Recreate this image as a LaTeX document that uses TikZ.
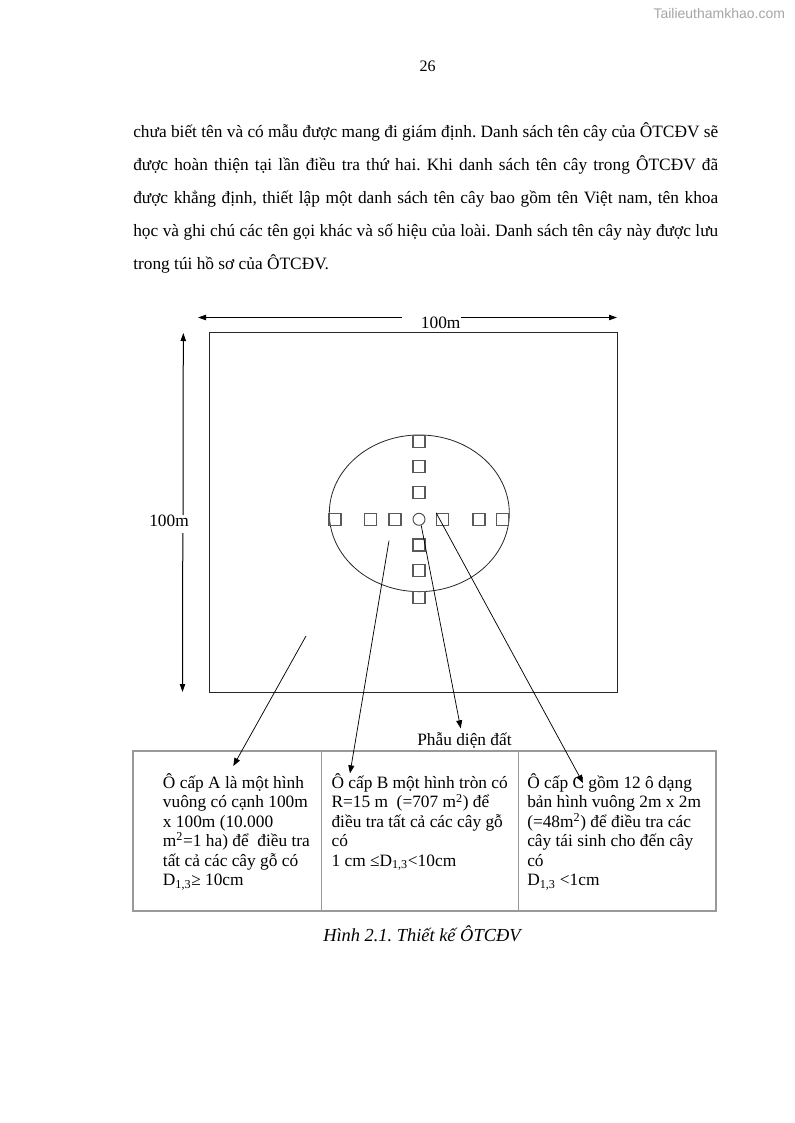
\documentclass[tikz,border=0pt]{standalone}
\usepackage{fontspec}
\setmainfont{Liberation Serif}
\newfontfamily\wmfont{Liberation Sans}
\usetikzlibrary{arrows.meta,shapes.geometric}
\frenchspacing

\begin{document}
\begin{tikzpicture}[x=0.75pt,y=-0.75pt]
  \tikzset{plotline/.style={draw=black!85,line width=0.75pt}}
  \tikzset{cellline/.style={draw=black!40,line width=0.8pt}}
  \tikzset{subplot/.style={rectangle,draw=black!65,line width=0.9pt,minimum size=9pt,inner sep=0pt}}
  \tikzset{pointer/.style={draw=black,line width=0.55pt,-{Triangle[length=6pt,width=4.5pt]}}}
  \tikzset{dimline/.style={draw=black,line width=0.75pt,-{Triangle[length=6pt,width=4pt]}}}
  \tikzset{bodytext/.style={font=\fontsize{13}{15}\selectfont,inner sep=0pt,anchor=base west}}
  \tikzset{celltext/.style={font=\fontsize{13}{14.6}\selectfont,inner sep=0pt,anchor=base west,align=left}}
  \useasboundingbox[fill=white] (0,0) rectangle (794,1123);
  % header
  \node[font=\wmfont\fontsize{10.5}{12}\selectfont,text=black!35,inner sep=0pt,anchor=base east] (wm) at (785.3,18.3) {Tailieuthamkhao.com};
  \node[font=\fontsize{12}{14}\selectfont,inner sep=0pt,anchor=base] (pgno) at (427.5,71.5) {26};
  % paragraph
  \node[bodytext] (par1) at (133,137.5) {\makebox[438.75pt][s]{chưa biết tên và có mẫu được mang đi giám định. Danh sách tên cây của ÔTCĐV sẽ}};
  \node[bodytext] (par2) at (133,170.5) {\makebox[438.75pt][s]{được hoàn thiện tại lần điều tra thứ hai. Khi danh sách tên cây trong ÔTCĐV đã}};
  \node[bodytext] (par3) at (133,203.5) {\makebox[438.75pt][s]{được khẳng định, thiết lập một danh sách tên cây bao gồm tên Việt nam, tên khoa}};
  \node[bodytext] (par4) at (133,236.5) {\makebox[438.75pt][s]{học và ghi chú các tên gọi khác và số hiệu của loài. Danh sách tên cây này được lưu}};
  \node[bodytext] (par5) at (133,269.5) {trong túi hồ sơ của ÔTCĐV.};
  % plot A and dimensions
  \coordinate (sqNW) at (209,332);
  \coordinate (sqSE) at (617,692);
  \draw[plotline] (sqNW) rectangle (sqSE);
  \node[bodytext] (lenTop) at (420.7,328.3) {100m};
  \coordinate (topL) at (198,317.5);
  \coordinate (topR) at (617,317.5);
  \coordinate (gapL) at (401.7,317.5);
  \coordinate (gapR) at (460.7,317.5);
  \draw[dimline] (gapL) -- (topL);
  \draw[dimline] (gapR) -- (topR);
  \node[bodytext,anchor=base] (lenLeft) at (169,526.5) {100m};
  \coordinate (leftT) at (183.3,333);
  \coordinate (leftB) at (182.5,692);
  \coordinate (gapT) at (183,515);
  \coordinate (gapB) at (182.8,533);
  \draw[dimline] (gapT) -- (leftT);
  \draw[dimline] (gapB) -- (leftB);
  % plot B, plot C, soil pit
  \node[draw=black!85,line width=0.6pt,ellipse,minimum width=135pt,minimum height=117.5pt,inner sep=0pt] (plotB) at (419.3,513.3) {};
  \node[circle,draw=black!70,line width=0.7pt,minimum size=9pt,inner sep=0pt] (pit) at (419,519.3) {};
  \foreach \yy [count=\i] in {441.5,466.7,492.3,545.0,570.7,597.7}
    \node[subplot] (cv\i) at (419,\yy) {};
  \foreach \xx [count=\i] in {335.0,370.7,395.0,442.7,479.0,502.7}
    \node[subplot] (ch\i) at (\xx,519.3) {};
  % table
  \coordinate (tabNW) at (133,751);
  \coordinate (tabSE) at (716,911);
  \draw[cellline] (tabNW) rectangle (tabSE);
  \draw[cellline] (321.5,751) -- (321.5,911);
  \draw[cellline] (518.3,751) -- (518.3,911);
  \node[bodytext] (soil) at (417,745) {Phẫu diện đất};
  % (base of a multi-line node = its last line)
  \node[celltext] (cellA) at (162.7,885.6) {Ô cấp A là một hình\\vuông có cạnh 100m\\x 100m (10.000\\m\textsuperscript{2}=1 ha) để\ \ điều tra\\tất cả các cây gỗ có\\D\textsubscript{1,3}≥ 10cm};
  \node[celltext] (cellB) at (331.3,866.2) {Ô cấp B một hình tròn có\\R=15 m\ \ (=707 m\textsuperscript{2}) để\\điều tra tất cả các cây gỗ\\có\\1 cm ≤D\textsubscript{1,3}<10cm};
  \node[celltext] (cellC) at (527,885.6) {Ô cấp C gồm 12 ô dạng\\bản hình vuông 2m x 2m\\(=48m\textsuperscript{2}) để điều tra các\\cây tái sinh cho đến cây\\có\\D\textsubscript{1,3} <1cm};
  % pointers
  \coordinate (srcA) at (306,636);
  \coordinate (tipA) at (233.3,766);
  \coordinate (srcB) at (389,540.7);
  \coordinate (tipB) at (350,773.3);
  \coordinate (tipS) at (460.7,728.3);
  \coordinate (tipC) at (583,783);
  \draw[pointer] (srcA) -- (tipA);
  \draw[pointer] (srcB) -- (tipB);
  \draw[pointer] (pit.290) -- (tipS);
  \draw[pointer] (ch4.north west) -- (tipC);
  % caption
  \node[bodytext,font=\fontsize{13.8}{16}\selectfont\itshape] (caption) at (323,941) {Hình 2.1. Thiết kế ÔTCĐV};
\end{tikzpicture}
\end{document}
